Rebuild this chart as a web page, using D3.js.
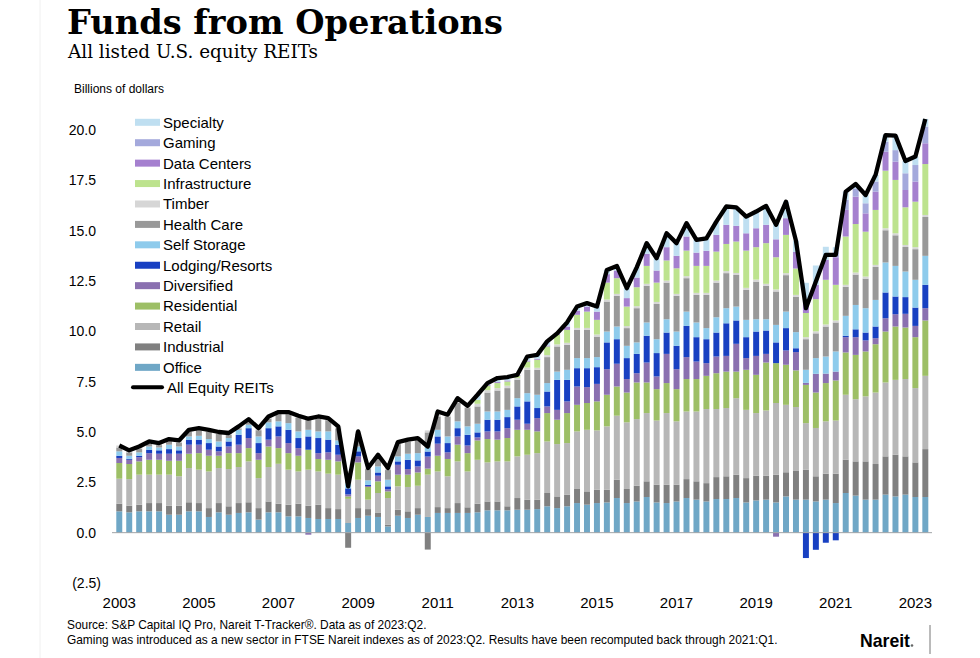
<!DOCTYPE html>
<html>
<head>
<meta charset="utf-8">
<script src="https://cdn.jsdelivr.net/npm/d3@7"></script>
<style>
  body { margin: 0; background: #fff; }
  svg { display: block; }
  .sans { font-family: "Liberation Sans", Arial, sans-serif; }
</style>
</head>
<body>
<div id="chart"></div>
<script>
// quarters 2003:Q1 .. 2023:Q2
var quarters = d3.range(82).map(function (i) { return (2003 + Math.floor(i / 4)) + ':Q' + (i % 4 + 1) })

var yearLabels = ['2003', '2005', '2007', '2009', '2011', '2013', '2015', '2017', '2019', '2021', '2023']
var yTicks = [-2.5, 0, 2.5, 5, 7.5, 10, 12.5, 15, 17.5, 20]
var yTickLabels = ['(2.5)', '0.0', '2.5', '5.0', '7.5', '10.0', '12.5', '15.0', '17.5', '20.0']

// billions of dollars
var office = [1.06,1.01,1.06,1.06,1.06,0.89,0.89,1.06,1.06,0.78, 1.01,0.89,0.98,1.01,0.65,1.01,1.01,0.81,0.81,0.73,
  0.68,0.68,0.68,0.48,0.73,0.84,0.78,0.31,0.84,0.73, 0.89,0.78,0.98,0.98,0.98,0.98,1.01,1.11,1.11,1.11,
  1.14,1.14,1.17,1.31,1.22,1.31,1.47,1.39,1.47,1.50, 1.72,1.47,1.55,1.77,1.50,1.47,1.55,1.72,1.64,1.55,
  1.67,1.67,1.72,1.50,1.60,1.64,1.50,1.80,1.64,1.64, 1.55,1.64,1.47,1.97,1.84,1.64,1.64,1.89,1.80,1.89, 1.77,1.77]
var industrial = [0.38,0.33,0.33,0.41,0.41,0.45,0.45,0.45,0.41,0.44, 0.46,0.42,0.49,0.50,0.57,0.54,0.43,0.58,0.63,0.61,
  0.71,0.54,0.49,-0.75,0.49,0.33,0.20,0.09,0.30,0.33, 0.33,-0.84,0.29,0.24,0.49,0.28,0.43,0.44,0.44,0.20,
  0.58,0.50,0.47,0.66,0.58,0.58,0.70,0.66,0.66,0.63, 0.91,0.70,0.78,0.78,0.88,0.91,0.83,0.94,0.91,0.91,
  1.09,1.13,1.16,1.21,1.23,1.19,1.38,1.20,1.45,1.49, 1.25,1.29,1.46,1.65,1.70,1.90,1.77,1.90,2.07,1.90, 1.72,2.38]
var retail = [1.24,1.32,1.49,1.41,1.41,1.54,1.46,1.70,1.66,1.82, 1.74,1.85,1.79,2.03,1.49,1.71,1.98,1.74,1.60,1.79,
  1.65,1.71,1.71,1.20,1.41,0.47,0.99,1.32,1.16,1.21, 1.11,2.10,1.77,1.58,2.07,1.78,2.18,1.94,1.99,2.23,
  2.07,2.23,2.31,2.56,2.60,2.56,2.86,3.06,2.95,3.15, 3.18,3.31,3.31,3.39,3.19,3.56,3.15,3.36,3.47,3.68,
  3.38,3.39,3.80,3.39,3.11,3.24,3.56,3.35,3.15,2.31, 2.40,2.60,2.64,3.23,3.09,3.23,3.55,3.67,3.72,3.84, 3.69,3.64]
var residential = [0.78,0.75,0.66,0.74,0.74,0.69,0.77,0.71,0.82,0.78, 0.61,0.79,0.69,0.66,0.91,1.02,0.78,0.82,0.78,0.99,
  0.62,0.69,0.66,0.12,0.86,0.63,0.58,0.33,0.58,0.61, 0.66,0.30,0.78,0.86,0.83,0.91,0.96,1.16,1.08,1.16,
  1.32,1.24,1.08,1.41,1.21,1.49,1.32,1.33,1.44,1.57, 1.45,1.48,1.82,1.52,1.56,1.49,1.60,1.61,1.61,1.65,
  1.78,1.81,1.32,1.99,1.90,2.38,1.98,1.99,1.82,1.90, 1.76,1.90,1.99,2.10,2.20,2.23,2.40,2.53,2.65,2.56, 2.53,2.75]
var diversified = [0.25,0.21,0.21,0.33,0.30,0.35,0.35,0.45,0.42,0.30, 0.22,0.33,0.42,0.50,0.33,0.34,0.58,0.50,0.38,-0.10,
  0.29,0.37,0.33,0.10,0.30,0.05,0.28,0.10,0.49,0.28, 0.30,0.60,0.60,0.33,0.41,0.38,0.15,0.38,0.41,0.49,
  0.50,0.30,0.66,0.33,0.49,0.58,0.91,0.79,0.87,1.27, 1.13,0.67,0.46,0.99,0.63,1.45,0.99,1.09,0.87,0.63,
  0.83,0.78,1.38,0.58,0.94,0.43,-0.20,0.71,0.91,0.10, 0.93,0.47,0.44,0.76,0.88,0.55,0.30,0.66,0.61,0.68, 0.56,0.61]
var lodging = [0.11,0.05,0.07,0.17,0.17,0.23,0.17,0.25,0.25,0.33, 0.24,0.25,0.49,0.49,0.50,0.57,0.50,0.66,0.50,0.66,
  0.75,0.63,0.50,0.30,0.25,0.05,0.16,0.15,0.17,0.46, 0.30,0.25,0.36,0.46,0.41,0.53,0.25,0.58,0.58,0.55,
  0.66,1.11,0.50,0.74,1.49,1.07,0.91,0.94,0.83,1.33, 1.22,1.04,0.96,1.33,1.16,1.06,1.16,1.55,1.21,1.19,
  1.19,1.62,1.16,1.04,1.21,1.16,1.03,1.11,0.19,-1.26, -0.85,-0.50,-0.38,0.07,0.39,0.39,0.58,1.28,0.88,0.83, 0.91,1.16]
var selfStorage = [0.22,0.15,0.17,0.16,0.14,0.22,0.19,0.16,0.19,0.20, 0.25,0.17,0.25,0.17,0.33,0.29,0.25,0.33,0.33,0.33,
  0.33,0.41,0.21,0.25,0.24,0.23,0.30,0.33,0.25,0.30, 0.36,0.20,0.33,0.33,0.34,0.42,0.43,0.41,0.41,0.36,
  0.41,0.41,0.66,0.42,0.41,0.50,0.50,0.50,0.50,0.54, 0.63,0.61,0.57,0.66,0.69,0.66,0.71,0.71,0.73,0.55,
  0.76,0.75,0.69,0.86,0.61,0.56,0.87,0.82,0.80,0.65, 0.78,0.85,1.00,0.99,1.21,1.21,1.32,1.49,1.52,1.27, 1.38,1.44]
var healthCare = [0.19,0.17,0.19,0.15,0.12,0.18,0.20,0.23,0.28,0.36, 0.37,0.15,0.07,0.18,0.31,0.19,0.36,0.45,0.68,0.55,
  0.64,0.56,0.60,0.55,0.65,0.56,0.48,0.48,0.61,0.60, 0.65,0.75,0.66,0.99,0.91,0.91,0.86,0.94,1.04,1.08,
  0.91,1.16,1.24,1.29,1.25,1.24,1.40,1.40,1.02,1.49, 1.52,0.88,1.70,1.82,1.75,1.82,1.77,1.66,1.37,1.65,
  1.72,1.74,1.57,1.49,1.87,1.66,1.66,1.81,1.75,1.52, 1.23,1.49,1.44,1.44,1.51,1.47,1.64,1.60,1.52,1.22, 1.52,1.93]
var timber = [0.10,0.10,0.10,0.10,0.10,0.10,0.10,0.10,0.10,0.10, 0.10,0.10,0.10,0.10,0.10,0.10,0.10,0.10,0.10,0.10,
  0.10,0.10,0.10,0.05,0.10,0.05,0.10,0.10,0.10,0.10, 0.10,0.10,0.15,0.09,0.14,0.11,0.13,0.12,0.12,0.12,
  0.10,0.11,0.10,0.10,0.10,0.10,0.10,0.10,0.10,0.10, 0.10,0.10,0.10,0.10,0.10,0.10,0.10,0.10,0.10,0.10,
  0.10,0.10,0.10,0.10,0.10,0.10,0.10,0.10,0.10,0.10, 0.10,0.10,0.10,0.10,0.10,0.10,0.10,0.10,0.10,0.10, 0.10,0.10]
var infrastructure = [0,0,0,0,0,0,0,0,0,0, 0,0,0,0,0,0,0,0,0,0,
  0,0,0,0,0,0,0,0,0,0, 0,0,0.05,0,0.05,0,0.20,0.22,0.25,0.21,
  0.10,0.30,0.40,0.43,0.48,0.64,0.65,0.81,0.73,0.84, 0.78,0.97,0.94,0.89,0.96,1.00,1.27,1.27,1.34,1.34,
  1.44,1.35,1.56,1.85,1.61,2.02,1.60,1.90,1.31,1.20, 1.60,2.22,1.77,2.40,2.41,2.23,2.73,2.86,2.65,1.87, 2.26,2.53]
var dataCenters = [0,0,0,0,0,0,0,0,0,0, 0,0,0,0,0,0,0,0,0,0,
  0,0,0,0,0,0,0,0,0,0, 0,0,0,0,0,0,0,0.05,0.05,0.05,
  0.05,0.05,0.05,0.05,0.05,0.17,0.21,0.25,0.41,0.42, 0.38,0.42,0.48,0.60,0.60,0.66,0.62,0.70,0.66,0.75,
  0.83,0.95,0.78,0.86,0.94,0.91,0.89,0.83,0.82,0.60, 0.70,0.99,1.37,1.32,1.36,0.91,0.91,0.94,0.91,0.86, 1.00,1.03]
var gaming = [0,0,0,0,0,0,0,0,0,0, 0,0,0,0,0,0,0,0,0,0,
  0,0,0,0,0,0,0,0,0,0, 0,0,0,0,0,0,0,0,0,0,
  0,0,0,0,0,0,0,0,0,0, 0,0,0,0,0,0,0,0,0,0,
  0,0,0,0,0,0,0,0,0,0, 0,0,0.25,0.50,0.41,0.50,0.50,0.50,0.57,0.83, 0.82,0.83]
var specialty = [0,0,0,0,0,0,0,0,0,0, 0,0,0,0,0,0,0,0,0,0,
  0,0,0,0,0,0,0,0,0,0, 0,0,0.05,0,0.05,0,0.25,0.08,0.20,0.17,
  0,0.20,0.19,0.20,0.02,0.20,0.20,0.17,0.25,0.21, 0.23,0.49,0.51,0.53,0.61,0.69,0.63,0.66,0.63,0.62,
  0.66,0.91,0.92,0.83,0.83,0.94,0.92,0.82,0.56,0.90, 0.97,0.65,0.25,0.41,0.22,0.41,0.33,0.33,0.72,0.61, 0.42,0.38]
var allEquityREITs = [4.33,4.09,4.28,4.53,4.45,4.65,4.58,5.11,5.19,5.11, 5.00,4.95,5.28,5.64,5.19,5.77,5.99,5.99,5.81,5.66,
  5.77,5.69,5.28,2.30,5.03,3.21,3.87,3.21,4.50,4.62, 4.70,4.28,6.02,5.86,6.68,6.30,6.85,7.43,7.68,7.73,
  7.84,8.75,8.83,9.50,9.90,10.44,11.23,11.40,11.23,13.05, 13.25,12.14,13.18,14.38,13.63,14.87,14.38,15.37,14.54,14.62,
  15.45,16.20,16.16,15.70,15.95,16.23,15.29,16.44,14.50,11.15, 12.47,13.80,13.80,16.94,17.32,16.77,17.77,19.75,19.72,18.46, 18.68,20.55]

// stack order, bottom to top
var sectors = ['Office', 'Industrial', 'Retail', 'Residential', 'Diversified', 'Lodging/Resorts', 'Self Storage',
  'Health Care', 'Timber', 'Infrastructure', 'Data Centers', 'Gaming', 'Specialty']
var sectorValues = [office, industrial, retail, residential, diversified, lodging, selfStorage,
  healthCare, timber, infrastructure, dataCenters, gaming, specialty]
var sectorColors = ['#6fa7c6', '#808080', '#b7b7b7', '#9dbf66', '#8a70b0', '#1840c2', '#8ecbec',
  '#999999', '#d6d6d6', '#bde38e', '#a580cf', '#a4a9dc', '#bfdff1']

var rows = quarters.map(function (q, i) {
  var r = { quarter: q }
  sectors.forEach(function (s, j) { r[s] = sectorValues[j][i] })
  return r
})

var svg = d3.select('#chart').append('svg')
  .attr('width', 980)
  .attr('height', 658)

svg.append('rect').attr('width', 980).attr('height', 658).attr('fill', '#fff')
svg.append('line')
  .attr('x1', 40).attr('x2', 40).attr('y1', 0).attr('y2', 658)
  .attr('stroke', '#f0f0f0')

// titles
svg.append('text')
  .attr('x', 67).attr('y', 34)
  .attr('textLength', 436).attr('lengthAdjust', 'spacingAndGlyphs')
  .style('font-family', '"DejaVu Serif", Georgia, serif')
  .style('font-weight', 'bold')
  .style('font-size', '33px')
  .text('Funds from Operations')

svg.append('text')
  .attr('x', 68).attr('y', 58)
  .attr('textLength', 250).attr('lengthAdjust', 'spacingAndGlyphs')
  .style('font-family', '"DejaVu Serif", Georgia, serif')
  .style('font-size', '19px')
  .text('All listed U.S. equity REITs')

svg.append('text')
  .attr('class', 'sans')
  .attr('x', 74).attr('y', 93)
  .style('font-size', '12px')
  .text('Billions of dollars')

// scales
var x = d3.scaleBand()
  .domain(quarters)
  .range([114.3, 930.3])
  .paddingInner(0.4)
  .paddingOuter(0.2)

var y = d3.scaleLinear()
  .domain([-2.5, 20])
  .range([583, 130])

// y labels
svg.append('g').selectAll('text')
  .data(yTicks)
  .join('text')
  .attr('class', 'sans')
  .attr('x', function (d) { return d < 0 ? 101 : 96 })
  .attr('y', function (d) { return y(d) })
  .attr('dy', '0.36em')
  .attr('text-anchor', 'end')
  .style('font-size', '14px')
  .text(function (d, i) { return yTickLabels[i] })

// x labels
svg.append('g').selectAll('text')
  .data(yearLabels)
  .join('text')
  .attr('class', 'sans')
  .attr('x', function (d) { return x(d + ':Q1') + x.bandwidth() / 2 })
  .attr('y', 608)
  .attr('text-anchor', 'middle')
  .style('font-size', '15px')
  .text(function (d) { return d })

// stacked bars
var series = d3.stack()
  .keys(sectors)
  .offset(d3.stackOffsetDiverging)(rows)

svg.append('g').selectAll('g')
  .data(series)
  .join('g')
  .attr('fill', function (d, i) { return sectorColors[i] })
  .selectAll('rect')
  .data(function (d) { return d })
  .join('rect')
  .attr('x', function (d) { return x(d.data.quarter) })
  .attr('width', x.bandwidth())
  .attr('y', function (d) { return y(Math.max(d[0], d[1])) })
  .attr('height', function (d) { return Math.abs(y(d[0]) - y(d[1])) })

// zero line
svg.append('line')
  .attr('x1', 112).attr('x2', 932)
  .attr('y1', y(0)).attr('y2', y(0))
  .attr('stroke', '#a0a4a8')
  .attr('stroke-width', 1)

// total line
var line = d3.line()
  .x(function (d, i) { return x(quarters[i]) + x.bandwidth() / 2 })
  .y(function (d) { return y(d) })

svg.append('path')
  .datum(allEquityREITs)
  .attr('d', line)
  .attr('fill', 'none')
  .attr('stroke', '#000')
  .attr('stroke-width', 4.3)
  .attr('stroke-linejoin', 'round')

// legend, top to bottom
var legendNames = sectors.slice().reverse()
var legendColors = sectorColors.slice().reverse()
var legend = svg.append('g')

legend.selectAll('rect')
  .data(legendNames)
  .join('rect')
  .attr('x', 135)
  .attr('y', function (d, i) { return 122.3 + i * 20.42 - 3.5 })
  .attr('width', 25).attr('height', 7)
  .attr('fill', function (d, i) { return legendColors[i] })

legend.selectAll('text')
  .data(legendNames)
  .join('text')
  .attr('class', 'sans')
  .attr('x', 163)
  .attr('y', function (d, i) { return 122.3 + i * 20.42 })
  .attr('dy', '0.36em')
  .style('font-size', '15px')
  .text(function (d) { return d })

legend.append('line')
  .attr('x1', 133).attr('x2', 162)
  .attr('y1', 387.3).attr('y2', 387.3)
  .attr('stroke', '#000').attr('stroke-width', 4)
  .attr('stroke-linecap', 'round')
legend.append('text')
  .attr('class', 'sans')
  .attr('x', 167).attr('y', 387.3)
  .attr('dy', '0.36em')
  .style('font-size', '15px')
  .text('All Equity REITs')

// footer
svg.append('text')
  .attr('class', 'sans')
  .attr('x', 67).attr('y', 629)
  .style('font-size', '11.9px')
  .text('Source: S&P Capital IQ Pro, Nareit T-Tracker®. Data as of 2023:Q2.')
svg.append('text')
  .attr('class', 'sans')
  .attr('x', 67).attr('y', 644)
  .style('font-size', '11.9px')
  .text('Gaming was introduced as a new sector in FTSE Nareit indexes as of 2023:Q2. Results have been recomputed back through 2021:Q1.')

svg.append('text')
  .attr('x', 860).attr('y', 647)
  .attr('textLength', 50).attr('lengthAdjust', 'spacingAndGlyphs')
  .style('font-family', '"Liberation Sans Narrow", "Liberation Sans", sans-serif')
  .style('font-weight', 'bold')
  .style('font-size', '19px')
  .text('Nareit')
svg.append('circle')
  .attr('cx', 912).attr('cy', 645.5).attr('r', 1.3)
  .attr('fill', '#666')
svg.append('line')
  .attr('x1', 930).attr('x2', 930).attr('y1', 625).attr('y2', 654)
  .attr('stroke', '#777').attr('stroke-width', 1)
</script>
</body>
</html>
